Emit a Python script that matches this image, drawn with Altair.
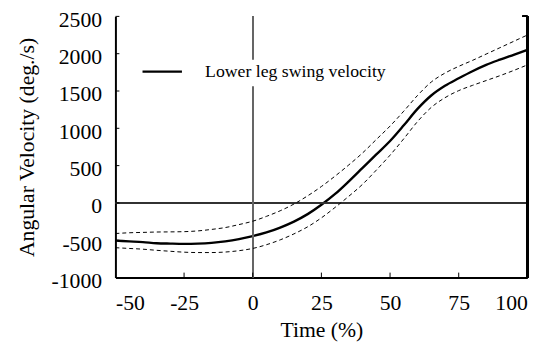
import altair as alt
import pandas as pd

# Time (%) sample points
time_pct = [-50, -45, -40, -35, -30, -25, -20, -15, -10, -5, 0, 5, 10, 15, 20, 25,
            30, 35, 40, 45, 50, 55, 60, 65, 70, 75, 80, 85, 90, 95, 100]
# Mean lower leg swing velocity (deg./s)
mean_vel = [-505, -515, -525, -540, -545, -548, -545, -535, -515, -485, -445, -395,
            -330, -250, -150, -25, 120, 290, 470, 650, 830, 1040, 1260, 1440, 1570,
            1670, 1765, 1850, 1920, 1985, 2050]
# Upper band (mean + SD)
upper_vel = [-410, -400, -395, -390, -388, -385, -375, -355, -330, -290, -245, -180,
             -105, -15, 95, 220, 360, 510, 670, 850, 1030, 1230, 1440, 1620, 1740,
             1830, 1910, 1995, 2080, 2165, 2250]
# Lower band (mean - SD)
lower_vel = [-600, -610, -620, -635, -648, -660, -665, -665, -658, -640, -610, -560,
             -495, -415, -320, -200, -60, 90, 250, 440, 640, 860, 1090, 1280, 1410,
             1505, 1575, 1640, 1705, 1775, 1850]

x_ticks = [-50, -25, 0, 25, 50, 75, 100]
y_ticks = [-1000, -500, 0, 500, 1000, 1500, 2000, 2500]
series_name = "Lower leg swing velocity"
x_title = "Time (%)"
y_title = "Angular Velocity (deg./s)"

FONT = "'Liberation Serif', 'Times New Roman', Times, serif"
W, H = 418, 265

df = pd.DataFrame({"t": time_pct, "mean": mean_vel, "upper": upper_vel,
                   "lower": lower_vel, "series": series_name})
tick_df = pd.DataFrame({"v": y_ticks[1:]})
xtick_df = pd.DataFrame({"t": [v for v in x_ticks if v not in (-50, 100)]})

xscale = alt.Scale(domain=[-50, 100], nice=False, zero=False)
yscale = alt.Scale(domain=[-1000, 2500], nice=False, zero=False)

LABEL_EXPR = "'' + datum.value"

xaxis = alt.Axis(values=x_ticks, title=x_title, labelExpr=LABEL_EXPR,
                 labelOverlap=False, titleY=53, titleBaseline="middle")
yaxis = alt.Axis(values=y_ticks, title=y_title, labelExpr=LABEL_EXPR,
                 labelOverlap=False, labelOffset=3,
                 titleX=-90, titleY=H / 2, titleAngle=-90,
                 titleAlign="center", titleBaseline="middle")


def X(field):
    return alt.X(field, scale=xscale, axis=xaxis, title=x_title)


def Y(field):
    return alt.Y(field, scale=yscale, axis=yaxis, title=y_title)


base = alt.Chart(df)

mean_line = base.mark_line(strokeWidth=2.4, interpolate="monotone").encode(
    x=X("t:Q"), y=Y("mean:Q"),
    color=alt.Color("series:N",
                    scale=alt.Scale(domain=[series_name], range=["black"]),
                    legend=alt.Legend(title=None, orient="none", legendX=20, legendY=44,
                                      symbolType="stroke", symbolSize=1600,
                                      symbolStrokeWidth=2.4, clipHeight=12,
                                      labelOffset=22, padding=6, fillColor="white",
                                      labelFont=FONT, labelFontSize=18,
                                      labelColor="black", labelLimit=400)))

zero_h = base.mark_rule(color="#333333", strokeWidth=1).encode(
    y=alt.YDatum(0, scale=yscale, axis=yaxis, title=y_title))
zero_v = base.mark_rule(color="#666666", strokeWidth=1).encode(
    x=alt.XDatum(0, scale=xscale, axis=xaxis, title=x_title))

upper_line = base.mark_line(color="black", strokeWidth=1, strokeDash=[4, 3],
                            interpolate="monotone").encode(x=X("t:Q"), y=Y("upper:Q"))
lower_line = base.mark_line(color="black", strokeWidth=1, strokeDash=[4, 3],
                            interpolate="monotone").encode(x=X("t:Q"), y=Y("lower:Q"))

left_ticks = alt.Chart(tick_df).mark_rule(color="black", strokeWidth=1).encode(
    y=Y("v:Q"), x=alt.value(0), x2=alt.value(4))
bottom_ticks = alt.Chart(xtick_df).mark_rule(color="black", strokeWidth=1).encode(
    x=X("t:Q"), y=alt.value(H), y2=alt.value(H - 5))
right_frame = base.mark_rule(color="black", strokeWidth=2).encode(
    x=alt.value(W), y=alt.value(0), y2=alt.value(H))
right_top_tick = base.mark_rule(color="black", strokeWidth=1).encode(
    x=alt.value(W - 5), x2=alt.value(W), y=alt.value(0))

chart = alt.layer(mean_line, zero_h, zero_v, upper_line, lower_line,
                  left_ticks, bottom_ticks, right_frame, right_top_tick).properties(
    width=W, height=H,
    autosize=alt.AutoSizeParams(type="none"),
    padding={"left": 109, "top": 6, "right": 25, "bottom": 70},
).configure_view(stroke=None).configure_axis(
    grid=False, ticks=False, domainColor="black", domainWidth=2, labelOverlap=False,
    labelFont=FONT, labelFontSize=22, labelColor="black", labelPadding=14,
    titleFont=FONT, titleFontSize=22, titleColor="black", titleFontWeight="normal",
).configure_axisX(labelPadding=15)

chart.save("out.html", embed_options={"renderer": "svg", "actions": False})
